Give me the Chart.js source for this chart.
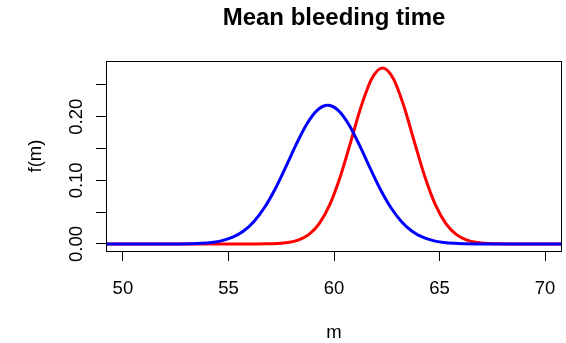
<!DOCTYPE html>
<html>
<head>
<meta charset="utf-8">
<title>Mean bleeding time</title>
<script src="https://cdn.jsdelivr.net/npm/chart.js@4.4.0/dist/chart.umd.min.js"></script>
<style>
  html, body { margin: 0; padding: 0; background: #fff; }
</style>
</head>
<body>
<canvas id="densityChart" width="566" height="343"></canvas>
<script>
// --- values ---
const blueM = [48.7, 52.2, 52.7, 53.2, 53.7, 54.2, 54.7, 55.2, 55.7, 56.2, 56.7, 57.2, 57.7, 58.2, 58.7, 59.2,
               59.7, 60.2, 60.7, 61.2, 61.7, 62.2, 62.7, 63.2, 63.7, 64.2, 64.7, 65.2, 65.7, 66.2, 66.7, 67.2, 71.2];
const blueF = [0, 0, 0.0001, 0.0004, 0.0010, 0.0024, 0.0052, 0.0106, 0.0200, 0.0350, 0.0569, 0.0857, 0.1200, 0.1558, 0.1878, 0.2100,
               0.2180, 0.2100, 0.1878, 0.1558, 0.1200, 0.0857, 0.0569, 0.0350, 0.0200, 0.0106, 0.0052, 0.0024, 0.0010, 0.0004, 0.0001, 0, 0];

const redM = [48.3, 56.3, 56.8, 57.3, 57.8, 58.3, 58.8, 59.3, 59.8, 60.3, 60.8, 61.3, 61.8,
              62.3, 62.8, 63.3, 63.8, 64.3, 64.8, 65.3, 65.8, 66.3, 66.8, 67.3, 67.8, 68.3, 71.3];
const redF = [0, 0, 0.0002, 0.0007, 0.0022, 0.0060, 0.0147, 0.0321, 0.0619, 0.1061, 0.1614, 0.2177, 0.2605,
              0.2766, 0.2605, 0.2177, 0.1614, 0.1061, 0.0619, 0.0321, 0.0147, 0.0060, 0.0022, 0.0007, 0.0002, 0, 0];

const xTicks = [50, 55, 60, 65, 70];
const yTicks = [0, 0.05, 0.10, 0.15, 0.20, 0.25];
const yLabelVals = [0, 0.10, 0.20];
const yLabels = ['0.00', '0.10', '0.20'];

const FONT = "'Liberation Sans', Arial, Helvetica, sans-serif";

// box, title, rotated y labels and axis titles (R style)
const rAxes = {
    id: 'rAxes',
    afterDraw(chart) {
        const { ctx, chartArea: a, scales } = chart;
        const midX = (a.left + a.right) / 2;
        ctx.save();
        ctx.strokeStyle = '#000';
        ctx.lineWidth = 1;
        ctx.strokeRect(a.left + 0.5, a.top + 0.5, a.right - a.left - 1, a.bottom - a.top);

        ctx.fillStyle = '#000';
        ctx.textAlign = 'center';
        ctx.textBaseline = 'alphabetic';

        // main title, centred over the plot region
        ctx.font = 'bold 24px ' + FONT;
        ctx.fillText('Mean bleeding time', midX, 25);

        ctx.font = '18.5px ' + FONT;
        yLabelVals.forEach((v, i) => {
            const y = scales.y.getPixelForValue(v);
            ctx.save();
            ctx.translate(81.5, y);
            ctx.rotate(-Math.PI / 2);
            ctx.fillText(yLabels[i], 0, 0);
            ctx.restore();
        });

        // y title
        ctx.save();
        ctx.translate(41, (a.top + a.bottom) / 2);
        ctx.rotate(-Math.PI / 2);
        ctx.fillText('f(m)', 0, 0);
        ctx.restore();

        // x title
        ctx.fillText('m', midX, 338);
        ctx.restore();
    }
};

const ctx = document.getElementById('densityChart');
new Chart(ctx, {
    type: 'line',
    data: {
        datasets: [
            {
                label: 'blue',
                data: blueM.map((m, i) => ({ x: m, y: blueF[i] })),
                borderColor: '#0000ff',
                borderWidth: 3,
                pointRadius: 0,
                fill: false,
                cubicInterpolationMode: 'monotone'
            },
            {
                label: 'red',
                data: redM.map((m, i) => ({ x: m, y: redF[i] })),
                borderColor: '#ff0000',
                borderWidth: 3,
                pointRadius: 0,
                fill: false,
                cubicInterpolationMode: 'monotone'
            }
        ]
    },
    options: {
        responsive: false,
        animation: false,
        events: [],
        layout: { padding: { left: 0, right: 4, top: 61, bottom: 0 } },
        plugins: {
            legend: { display: false },
            tooltip: { enabled: false },
            title: { display: false }
        },
        scales: {
            x: {
                type: 'linear',
                min: 49.2,
                max: 70.8,
                afterBuildTicks: s => { s.ticks = xTicks.map(v => ({ value: v })); },
                afterFit: s => { s.height = 92; s.paddingLeft = 0; s.paddingRight = 0; },
                grid: { drawOnChartArea: false, drawTicks: true, tickLength: 10, color: '#000', lineWidth: 1 },
                border: { display: false },
                ticks: { color: '#000', font: { family: FONT, size: 18.5 }, padding: 17, maxRotation: 0, autoSkip: false }
            },
            y: {
                type: 'linear',
                min: -0.0111,
                max: 0.2877,
                afterBuildTicks: s => { s.ticks = yTicks.map(v => ({ value: v })); },
                afterFit: s => { s.width = 106; s.paddingTop = 0; s.paddingBottom = 0; },
                grid: { drawOnChartArea: false, drawTicks: true, tickLength: 10, color: '#000', lineWidth: 1 },
                border: { display: false },
                ticks: { display: false }
            }
        }
    },
    plugins: [rAxes]
});
</script>
</body>
</html>
